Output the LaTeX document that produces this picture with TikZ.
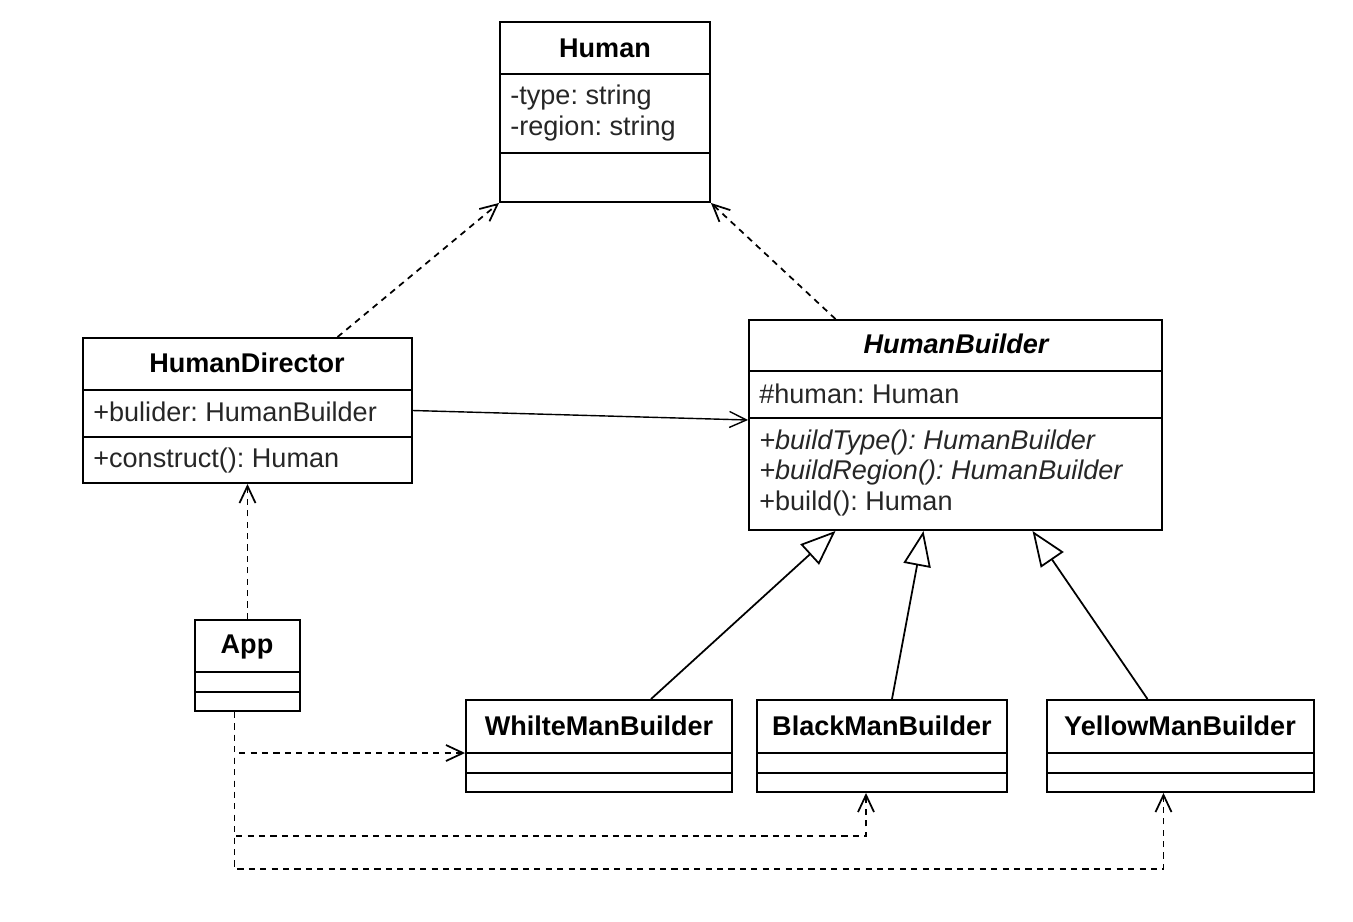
\documentclass[tikz,border=0pt]{standalone}
\usepackage{fontspec}
\setmainfont{Liberation Sans}
\usetikzlibrary{arrows.meta,fit,calc}

\frenchspacing
\newcommand{\umlfont}{\fontsize{15.4}{18}\selectfont}

\tikzset{
  classbox/.style={draw, line width=1.1pt, inner sep=0pt},
  classname/.style={font=\umlfont\bfseries, inner sep=0pt},
  member/.style={font=\umlfont, text=black!85, anchor=west, inner sep=0pt},
  depline/.style={line width=1pt, dash pattern=on 3.5pt off 3pt,
    -{Straight Barb[length=3.4mm, width=3.2mm]}},
  assocline/.style={line width=0.8pt, -{Straight Barb[length=3.4mm, width=3.2mm]}},
  inherit/.style={line width=1pt, -{Triangle[open, length=7mm, width=5.5mm]}},
}

\begin{document}
\begin{tikzpicture}[x=0.02cm, y=-0.02cm]

  \useasboundingbox (0,0) rectangle (1353,921);

  % Human
  \node[classbox, fit={(500,22) (710,202)}] (human) {};
  \draw[line width=1.1pt] (500,74) -- (710,74) (500,153) -- (710,153);
  \node[classname] (humanname) at (605,48) {Human};
  \node[member] (htype) at (510,97) {-type: string};
  \node[member] (hregion) at (510,128) {-region: string};

  % HumanDirector
  \node[classbox, fit={(83,338) (412,483)}] (director) {};
  \draw[line width=1.1pt] (83,390) -- (412,390) (83,437) -- (412,437);
  \node[classname] (directorname) at (247,363) {HumanDirector};
  \node[member] (dbuilder) at (93,412) {+bulider: HumanBuilder};
  \node[member] (dconstruct) at (93,460) {+construct(): Human};

  % HumanBuilder
  \node[classbox, fit={(749,320) (1162,530)}] (builder) {};
  \draw[line width=1.1pt] (749,371) -- (1162,371) (749,418) -- (1162,418);
  \node[classname, font=\umlfont\bfseries\itshape] (buildername) at (956,344) {HumanBuilder};
  \node[member] (bhuman) at (759,394) {\#human: Human};
  \node[member, font=\umlfont\itshape] (btype) at (759,442) {+buildType(): HumanBuilder};
  \node[member, font=\umlfont\itshape] (bregion) at (759,472) {+buildRegion(): HumanBuilder};
  \node[member] (bbuild) at (759,503) {+build(): Human};

  % App
  \node[classbox, fit={(195,620) (300,711)}] (app) {};
  \draw[line width=1.1pt] (195,672) -- (300,672) (195,692) -- (300,692);
  \node[classname] (appname) at (247,647) {App};

  % concrete builders
  \node[classbox, fit={(466,700) (732,792)}] (white) {};
  \draw[line width=1.1pt] (466,753) -- (732,753) (466,773) -- (732,773);
  \node[classname] (whitename) at (599,726) {WhilteManBuilder};

  \node[classbox, fit={(757,700) (1007,792)}] (black) {};
  \draw[line width=1.1pt] (757,753) -- (1007,753) (757,773) -- (1007,773);
  \node[classname] (blackname) at (882,726) {BlackManBuilder};

  \node[classbox, fit={(1047,700) (1314,792)}] (yellow) {};
  \draw[line width=1.1pt] (1047,753) -- (1314,753) (1047,773) -- (1314,773);
  \node[classname] (yellowname) at (1180,726) {YellowManBuilder};

  % dependencies on Human
  \draw[depline] ($(director.north)+(90,0)$) -- (human.south west);
  \draw[depline] ($(builder.north)+(-120,0)$) -- (human.south east);

  % association
  \draw[assocline] (director.east) -- ($(builder.west)+(0,-5)$);

  % App uses
  \draw[depline] (app.north) -- (director.south);
  \draw[depline] ($(app.south)+(-13,0)$) |- ($(white.west)+(0,7)$);
  \draw[depline] ($(app.south)+(-13,0)$) -- ++(0,124) -| ($(black.south)+(-16,0)$);
  \draw[depline] ($(app.south)+(-13,0)$) -- ++(0,157) -| ($(yellow.south)+(-17,0)$);

  % inheritance
  \draw[inherit] ($(white.north)+(52,0)$) -- ($(builder.south)+(-120,0)$);
  \draw[inherit] ($(black.north)+(10,0)$) -- ($(builder.south)+(-32,0)$);
  \draw[inherit] ($(yellow.north)+(-33,0)$) -- ($(builder.south)+(77,0)$);

\end{tikzpicture}
\end{document}
